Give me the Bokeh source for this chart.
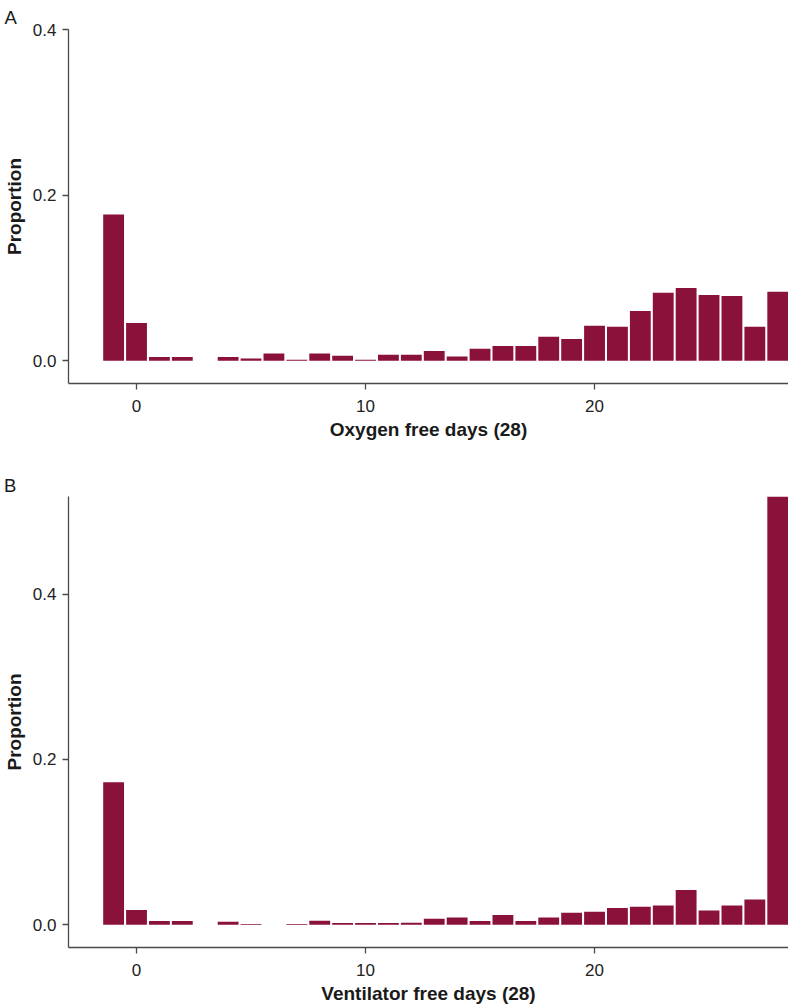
from bokeh.plotting import figure
from bokeh.models import FixedTicker, Range1d, PrintfTickFormatter, Div, Title, InlineStyleSheet
from bokeh.layouts import column
from bokeh.embed import file_html
from bokeh.resources import INLINE

# ---- data ----
days = list(range(-1, 29))
oxygen = [0.1765, 0.0456, 0.0045, 0.0045, 0.0, 0.0045, 0.0028, 0.0088, 0.0012, 0.0088,
          0.0060, 0.0012, 0.0071, 0.0071, 0.0117, 0.0052, 0.0145, 0.0178, 0.0178, 0.0290,
          0.0262, 0.0423, 0.0411, 0.0600, 0.0822, 0.0879, 0.0794, 0.0782, 0.0411, 0.0834]
ventilator = [0.1724, 0.0178, 0.0045, 0.0045, 0.0, 0.0035, 0.0008, 0.0, 0.0008, 0.0048,
              0.0020, 0.0020, 0.0022, 0.0024, 0.0072, 0.0088, 0.0045, 0.0118, 0.0045, 0.0088,
              0.0145, 0.0158, 0.0203, 0.0219, 0.0234, 0.0420, 0.0172, 0.0234, 0.0307, 0.5180]
y_ticks = [0.0, 0.2, 0.4]
x_ticks = [0, 10, 20]
panel_letters = ["A", "B"]
x_titles = ["Oxygen free days (28)", "Ventilator free days (28)"]
y_title = "Proportion"

BAR = "#8A1139"
AXIS = "#4a4a4a"
FONT = "Liberation Sans"
W = 788


def make_panel(values, xtitle, ymax, height, top, bottom):
    p = figure(width=W, height=height, output_backend="svg", toolbar_location=None,
               x_range=Range1d(-2.97, 28.47), y_range=Range1d(-0.0275, ymax),
               min_border_left=68, min_border_right=0,
               min_border_top=top, min_border_bottom=bottom)
    p.vbar(x=days, top=values, bottom=0, width=0.91,
           fill_color=BAR, line_color=None)
    p.grid.visible = False
    p.outline_line_color = None
    p.background_fill_color = "white"
    p.border_fill_color = "white"

    p.xaxis.ticker = FixedTicker(ticks=x_ticks)
    p.yaxis.ticker = FixedTicker(ticks=y_ticks)
    p.yaxis.formatter = PrintfTickFormatter(format="%.1f")
    for ax in (p.xaxis, p.yaxis):
        ax.minor_tick_line_color = None
        ax.major_tick_in = 0
        ax.major_tick_out = 6
        ax.axis_line_color = AXIS
        ax.axis_line_width = 1.3
        ax.major_tick_line_color = AXIS
        ax.major_tick_line_width = 1.3
        ax.major_label_text_font = FONT
        ax.major_label_text_font_size = "17px"
        ax.major_label_text_color = "#222222"
        ax.axis_label_text_font = FONT
        ax.axis_label_text_font_style = "bold"
        ax.axis_label_text_font_size = "19px"
        ax.axis_label_text_color = "#1a1a1a"
    p.xaxis.axis_label = xtitle
    p.yaxis.axis_label = y_title
    p.xaxis.major_label_standoff = 10
    p.xaxis.axis_label_standoff = 4
    p.yaxis.major_label_standoff = 6
    p.yaxis.axis_label_standoff = 5
    return p


# Panel A: letter as a left-aligned title shifted into the top-left corner
pA = make_panel(oxygen, x_titles[0], 0.4, 470, 29, 87)
pA.add_layout(Title(text=panel_letters[0], align="left", offset=-64, standoff=0,
                    vertical_align="top", text_font=FONT, text_font_size="18.5px",
                    text_font_style="normal", text_color="#1a1a1a"), "above")

# Panel B: letter as a small HTML block
letter_css = InlineStyleSheet(css=(
    ":host { margin: 0; padding: 0; overflow: visible; }"
    "div, span { font-family: 'Liberation Sans', sans-serif !important;"
    " font-size: 18.5px !important; line-height: 18.5px !important;"
    " color: #1a1a1a !important; }"))
divB = Div(text='<div style="padding:7px 0 0 4px; margin:0;">%s</div>' % panel_letters[1],
           width=W, height=23, stylesheets=[letter_css])
pB = make_panel(ventilator, x_titles[1], 0.518, 513, 3, 59)

layout = column(pA, divB, pB, spacing=0)
open("out.html", "w").write(file_html(layout, INLINE))
